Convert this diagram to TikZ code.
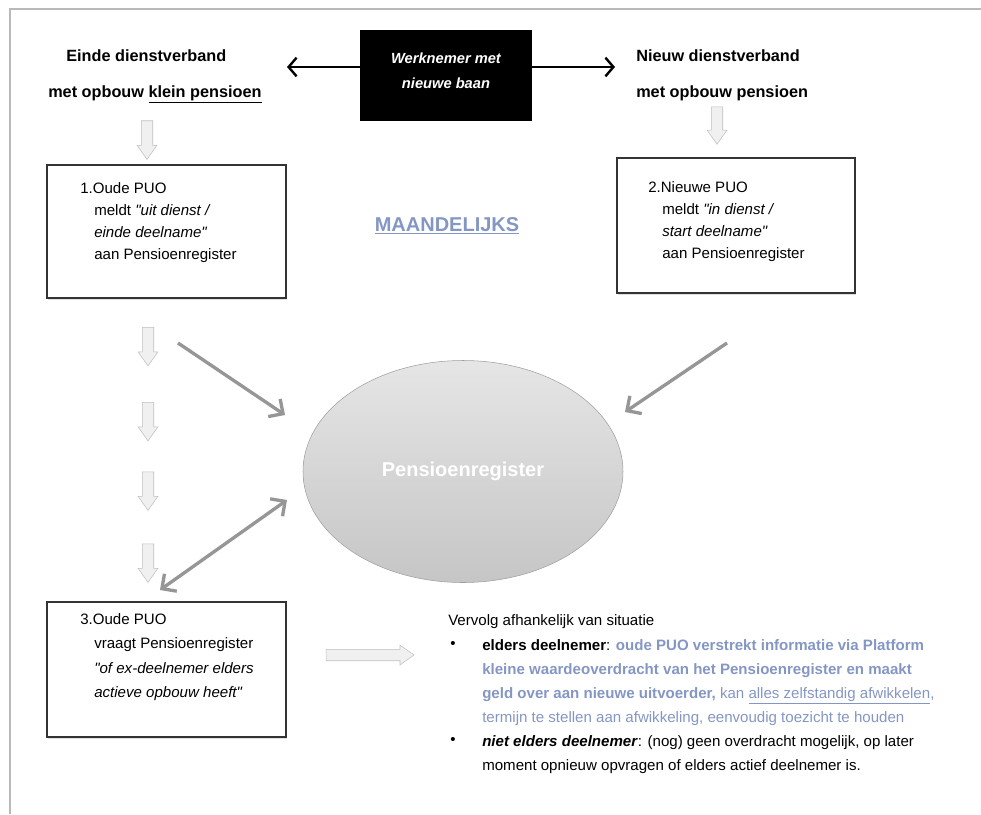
\documentclass[tikz,border=0pt]{standalone}
\usepackage{fontspec}
\setmainfont{Liberation Sans}
\usetikzlibrary{arrows.meta,shapes.geometric,shapes.arrows,shadows}
\definecolor{pblue}{RGB}{132,150,196}
\definecolor{arrgray}{RGB}{150,150,150}
\newcommand\puoind{\hspace*{10.5pt}}
\newcommand\dq{\textquotedbl}
\tikzset{
  puobox/.style={draw=black!80,line width=0.9pt,fill=white,minimum width=179.25pt,inner sep=0pt,
    drop shadow={shadow xshift=1pt,shadow yshift=-1.5pt,opacity=0.25}},
  puotxt/.style={anchor=north west,align=left,inner sep=0pt},
  headtxt/.style={anchor=base west,inner sep=0pt,font=\fontsize{12.2}{14}\selectfont\bfseries},
  blockarr/.style={single arrow,draw=gray!50,fill=gray!12,inner sep=4.1pt,
    single arrow head extend=3.1pt,single arrow tip angle=70},
  grayarr/.style={draw=arrgray,line width=2.5pt},
  gtip/.tip={Straight Barb[length=8pt,width=16pt]},
  blkarr/.style={line width=1.8pt,-{Straight Barb[length=6pt,width=14pt]}},
}
\begin{document}
\begin{tikzpicture}[x=0.75pt,y=-0.75pt,font=\fontsize{11.3}{16.5}\selectfont]
\useasboundingbox (0,0) rectangle (981,814);
\draw[gray!55,line width=0.8pt](10,814)--(10,9)--(981,9);
\node[fill=black,text=white,minimum width=129pt,minimum height=68.25pt,align=center,text depth=7.5pt,
  font=\fontsize{11}{18.5}\selectfont\bfseries\itshape](blackbox)at(446,75.5){Werknemer met\\nieuwe baan};
\coordinate(wl)at(287,67);
\coordinate(wr)at(615,67);
\draw[blkarr](blackbox.west|-wl)--(wl);
\draw[blkarr](blackbox.east|-wr)--(wr);
\node[headtxt](einde)at(66,61){Einde dienstverband};
\node[headtxt](eindeb)at(48,97){met opbouw \underline{klein pensioen}};
\node[headtxt](nieuw)at(636,61){Nieuw dienstverband};
\node[headtxt](nieuwb)at(636,97){met opbouw pensioen};
\node[blockarr,shape border rotate=270,minimum height=29pt](d0)at(147,136){};
\node[blockarr,shape border rotate=270,minimum height=28pt](d0r)at(717,121.5){};
\foreach \y/\n in {342.5/1,417.5/2,487/3,559/4}
  \node[blockarr,shape border rotate=270,minimum height=29pt](d\n)at(148,\y){};
\node[puobox,minimum height=99.75pt](box1)at(166.5,231.5){};
\node[puotxt](box1txt)at(80,182){1.Oude PUO\\
  \puoind meldt \textit{\dq uit dienst /}\\
  \puoind\textit{einde deelname\dq}\\
  \puoind aan Pensioenregister};
\node[puobox,minimum width=178.5pt,minimum height=101.25pt](box2)at(736,225.5){};
\node[puotxt](box2txt)at(648,181){2.Nieuwe PUO\\
  \puoind meldt \textit{\dq in dienst /}\\
  \puoind\textit{start deelname\dq}\\
  \puoind aan Pensioenregister};
\node[text=pblue,font=\fontsize{15}{18}\selectfont\bfseries](maand)at(447,226){\underline{MAANDELIJKS}};
\node[ellipse,minimum width=240pt,minimum height=166.5pt,inner sep=0pt,top color=gray!20,bottom color=gray!45,
  draw=gray!75,text=white,font=\fontsize{15}{18}\selectfont\bfseries](preg)at(463,471.5){Pensioenregister};
\coordinate(p1s)at(178,343);
\coordinate(p1e)at(285,415);
\coordinate(p2s)at(727,343);
\coordinate(p2e)at(625,412);
\coordinate(p3s)at(160,590);
\coordinate(p3e)at(287,500);
\draw[grayarr,-gtip](p1s)--(p1e);
\draw[grayarr,-gtip](p2s)--(p2e);
\draw[grayarr,gtip-gtip](p3s)--(p3e);
\node[puobox,minimum height=101.25pt](box3)at(166.5,669.5){};
\node[puotxt,font=\fontsize{11.3}{18.4}\selectfont](box3txt)at(80,613){3.Oude PUO\\
  \puoind vraagt Pensioenregister\\
  \puoind\textit{\dq of ex-deelnemer elders}\\
  \puoind\textit{actieve opbouw heeft\dq}};
\node[blockarr,minimum height=66pt](rarr)at(366,655){};
\node[anchor=base west,inner sep=0pt](vervolg)at(448,625){Vervolg afhankelijk van situatie};
\node[inner sep=0pt](bul1)at(453,645){\textbullet};
\node[inner sep=0pt](bul2)at(453,741){\textbullet};
\node[puotxt,font=\fontsize{11.3}{18}\selectfont](item1)at(482,639){\textbf{elders deelnemer}: \textcolor{pblue}{\textbf{oude PUO verstrekt informatie via Platform}}\\
  \textcolor{pblue}{\textbf{kleine waardeoverdracht van het Pensioenregister en maakt}}\\
  \textcolor{pblue}{\textbf{geld over aan nieuwe uitvoerder,} kan \underline{alles zelfstandig afwikkelen},}\\
  \textcolor{pblue}{termijn te stellen aan afwikkeling, eenvoudig toezicht te houden}};
\node[puotxt,font=\fontsize{11.3}{18}\selectfont](item2)at(482,735){\textbf{\textit{niet elders deelnemer}}: (nog) geen overdracht mogelijk, op later\\
  moment opnieuw opvragen of elders actief deelnemer is.};
\end{tikzpicture}
\end{document}
